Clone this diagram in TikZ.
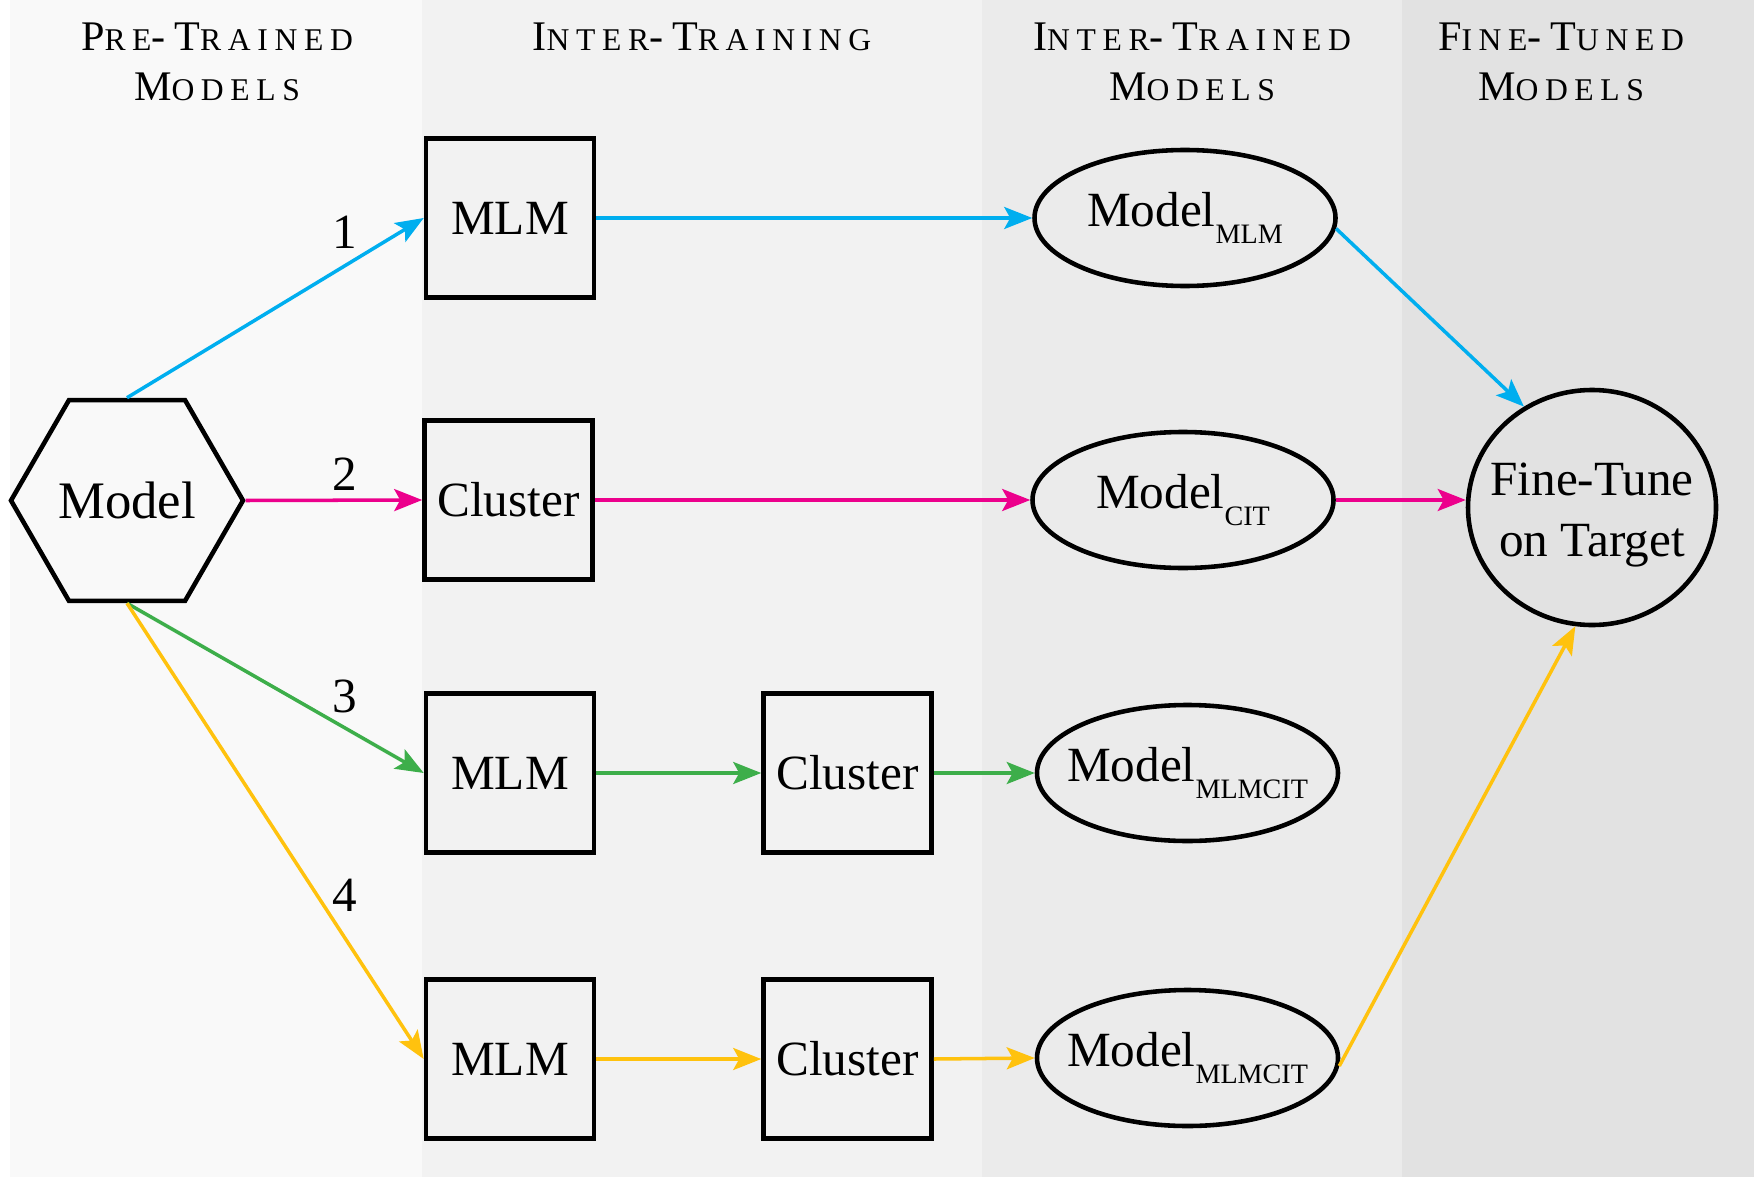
\documentclass[tikz,border=0pt]{standalone}
\usepackage{fontspec}
\setmainfont{Liberation Serif}
\usetikzlibrary{shapes.geometric,arrows.meta}

\definecolor{arrblue}{RGB}{0,174,239}
\definecolor{arrmagenta}{RGB}{236,0,140}
\definecolor{arrgreen}{RGB}{61,174,74}
\definecolor{arryellow}{RGB}{255,194,14}
\definecolor{bgpre}{RGB}{249,249,249}
\definecolor{bginter}{RGB}{242,242,242}
\definecolor{bgitm}{RGB}{235,235,235}
\definecolor{bgfine}{RGB}{226,226,226}

\newcommand{\headfont}{\fontsize{12}{12}\selectfont\addfontfeature{LetterSpace=21}}
\newcommand{\hdsc}[1]{{\fontsize{9}{9}\selectfont #1}}
\newcommand{\nodefont}{\fontsize{14}{17.3}\selectfont}
\newcommand{\modsub}[1]{\raisebox{-4.6pt}{\fontsize{8}{8}\selectfont #1}}
\newcommand{\itm}[1]{\makebox[16mm]{Model\modsub{#1}}}

\tikzset{
	colhead/.style={anchor=base, inner sep=0pt, font=\headfont},
	pretrained/.style={regular polygon, regular polygon sides=6, draw, line width=1.3pt,
		minimum size=23.2mm, inner sep=0pt, font=\fontsize{15}{15}\selectfont},
	task/.style={draw, line width=1.3pt, minimum width=16.8mm, minimum height=15.9mm,
		inner sep=0pt, font=\nodefont},
	inter/.style={ellipse, draw, line width=1.3pt, minimum width=30.1mm, minimum height=13.6mm,
		inner sep=0pt, font=\nodefont},
	target/.style={ellipse, draw, line width=1.3pt, minimum width=24.8mm, minimum height=23.5mm,
		inner sep=0pt, align=center, font=\nodefont},
	stepnum/.style={inner sep=0pt, font=\nodefont},
	flow/.style={line width=1pt, -{Stealth[length=2.8mm, width=2.2mm, inset=0.6mm]}},
}

\begin{document}
\begin{tikzpicture}[x=0.1mm, y=-0.1mm]

% canvas %{{{2

	\useasboundingbox (0,0) rectangle (1754,1177);

	\fill[bgpre] (10,0) rectangle (422,1177);
	\fill[bginter] (422,0) rectangle (982,1177);
	\fill[bgitm] (982,0) rectangle (1402,1177);
	\fill[bgfine] (1402,0) rectangle (1754,1177);

% column heads %{{{2

	\node[colhead] (hpreA) at (217,51) {P\hdsc{RE}-T\hdsc{RAINED}};
	\node[colhead] (hpreB) at (217,101) {M\hdsc{ODELS}};
	\node[colhead] (hinter) at (702,51) {I\hdsc{NTER}-T\hdsc{RAINING}};
	\node[colhead] (hitmA) at (1192,51) {I\hdsc{NTER}-T\hdsc{RAINED}};
	\node[colhead] (hitmB) at (1192,101) {M\hdsc{ODELS}};
	\node[colhead] (hfineA) at (1561,51) {F\hdsc{INE}-T\hdsc{UNED}};
	\node[colhead] (hfineB) at (1561,101) {M\hdsc{ODELS}};

% nodes %{{{2

	\node[pretrained] (model) at (127,500.5) {Model};

	\node[task] (mlmA) at (510,218) {MLM};
	\node[task] (clusterB) at (508.5,500) {Cluster};
	\node[task] (mlmC) at (510,773) {MLM};
	\node[task] (clusterC) at (847.5,773) {Cluster};
	\node[task] (mlmD) at (510,1059) {MLM};
	\node[task] (clusterD) at (847.5,1059) {Cluster};

	\node[inter] (itmA) at (1185,218) {\itm{MLM}};
	\node[inter] (itmB) at (1183,500) {\itm{CIT}};
	\node[inter] (itmC) at (1187.5,773) {\itm{MLMCIT}};
	\node[inter] (itmD) at (1187.5,1058) {\itm{MLMCIT}};

	\node[target] (ft) at (1592,507.5)
		{\makebox[14mm]{\rule{0pt}{4.8mm}Fine-Tune}\\\makebox[14mm]{on Target}};

% step numbers %{{{2

	\foreach \n/\y in {1/232, 2/474.5, 3/696, 4/895} {
		\node[stepnum] (num\n) at (344.5,\y) {\n};
	}

% arrows %{{{2

	\draw[flow, arrblue] (model.north) -- (mlmA.west);
	\draw[flow, arrblue] (mlmA.east) -- (itmA.west);
	\draw[flow, arrblue] (itmA.-4) -- (ft.124);

	\draw[flow, arrmagenta] (model.east) -- (clusterB.west);
	\draw[flow, arrmagenta] (clusterB.east) -- (itmB.west);
	\draw[flow, arrmagenta] (itmB.east) -- (itmB.east -| ft.west);

	\draw[flow, arrgreen] (model.south) -- (mlmC.west);
	\draw[flow, arrgreen] (mlmC.east) -- (clusterC.west);
	\draw[flow, arrgreen] (clusterC.east) -- (itmC.west);

	\draw[flow, arryellow] (model.south) -- (mlmD.west);
	\draw[flow, arryellow] (mlmD.east) -- (clusterD.west);
	\draw[flow, arryellow] (clusterD.east) -- (itmD.west);
	\draw[flow, arryellow] (itmD.-3) -- (ft.262);

% closing %{{{2

\end{tikzpicture}
\end{document}
